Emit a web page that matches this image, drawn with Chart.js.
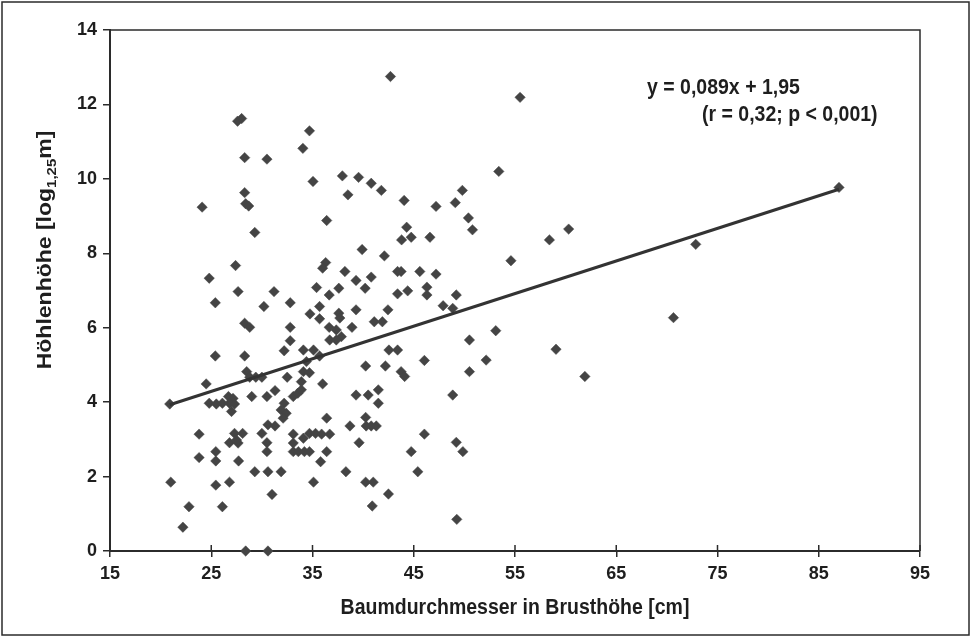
<!DOCTYPE html>
<html lang="de">
<head>
<meta charset="UTF-8">
<title>Höhlenhöhe und Baumdurchmesser</title>
<script src="https://cdn.jsdelivr.net/npm/chart.js@4.4.0/dist/chart.umd.min.js"></script>
<style>
  html, body { margin: 0; padding: 0; background: #fff; }
  #wrap { position: relative; width: 971px; height: 637px; }
</style>
</head>
<body>
<div id="wrap"><canvas id="chart-hoehle"></canvas></div>
<script>
// Baumdurchmesser in Brusthöhe [cm]
const durchmesser = [
  27.6, 28.0, 34.7, 34.05, 28.3, 30.5, 37.95, 35.05, 38.5, 28.3, 28.4, 28.7, 24.1, 36.4, 29.3,
  27.4, 36.3, 36.0, 38.2, 24.8, 27.65, 31.2, 35.4, 37.6, 36.65, 25.4, 32.8, 30.2, 35.7, 34.75,
  37.6, 37.7, 35.7, 28.3, 28.8, 32.8, 36.65, 37.35, 37.85, 36.7, 37.35, 32.8, 32.2, 34.1, 35.1,
  35.7, 34.4, 25.4, 28.3, 28.5, 28.8, 29.4, 30.0, 32.5, 34.1, 34.7, 24.5, 36.0,
  20.9, 24.8, 25.5, 26.1, 26.7, 27.15, 26.8, 27.3, 27.0, 29.0, 30.5, 31.3, 33.1, 33.55, 33.9,
  32.2, 31.9, 32.4, 32.1, 36.4, 23.8, 27.3, 28.1, 27.5, 26.8, 27.65, 30.0, 30.6, 31.3, 30.5,
  30.5, 33.1, 33.1, 34.1, 34.7, 35.3, 35.9, 36.7, 33.1, 33.6, 34.2, 34.7, 36.4, 35.8, 25.45,
  25.45, 23.8, 27.7, 29.3, 30.6, 31.9, 38.3, 21.0, 25.45, 26.8, 31.0, 35.1, 22.8, 26.1, 22.2,
  28.4, 30.6,
  42.7, 39.55, 40.8, 41.8, 44.05, 47.2, 49.8, 49.1, 50.4, 50.8, 44.3, 43.8, 44.75, 46.6, 39.9, 53.4,
  42.1, 43.4, 43.75, 45.6, 47.2, 39.3, 40.8, 40.2, 43.4, 44.4, 46.3, 46.3, 49.2, 47.9, 48.85,
  39.3, 42.45, 41.1, 41.9, 38.9, 42.55, 43.4, 50.5, 52.15, 53.1, 40.25, 42.2, 46.05, 43.75, 44.1,
  50.5, 33.9, 39.3, 40.5, 41.5, 48.85,
  41.5, 38.7, 40.25, 40.3, 40.8, 41.3, 46.05, 49.2, 49.85, 44.75, 45.4, 39.6, 40.25, 41.0, 42.5,
  40.9, 49.25,
  55.5, 58.4, 60.3, 54.6, 70.65, 59.05, 61.9, 87.0, 72.85
];

// Höhlenhöhe [log1,25 m]
const hoehe = [
  11.55, 11.62, 11.29, 10.82, 10.57, 10.53, 10.08, 9.93, 9.57, 9.63, 9.33, 9.27, 9.24, 8.88, 8.56,
  7.67, 7.75, 7.60, 7.51, 7.33, 6.97, 6.97, 7.08, 7.06, 6.88, 6.67, 6.67, 6.57, 6.57, 6.37,
  6.39, 6.26, 6.24, 6.12, 6.01, 6.01, 6.01, 5.94, 5.76, 5.67, 5.67, 5.65, 5.38, 5.40, 5.40,
  5.24, 5.09, 5.24, 5.24, 4.82, 4.67, 4.67, 4.67, 4.67, 4.82, 4.79, 4.49, 4.49,
  3.95, 3.97, 3.95, 3.97, 4.15, 4.10, 3.97, 3.95, 3.75, 4.15, 4.15, 4.31, 4.15, 4.24, 4.33,
  3.97, 3.79, 3.70, 3.57, 3.57, 3.14, 3.16, 3.16, 2.98, 2.91, 2.90, 3.16, 3.39, 3.36, 2.91,
  2.67, 3.14, 2.90, 3.03, 3.16, 3.16, 3.14, 3.14, 2.67, 2.67, 2.67, 2.67, 2.67, 2.40, 2.67,
  2.42, 2.51, 2.42, 2.13, 2.13, 2.13, 2.13, 1.85, 1.77, 1.85, 1.52, 1.85, 1.19, 1.19, 0.64,
  0, 0,
  12.75, 10.04, 9.88, 9.69, 9.42, 9.26, 9.69, 9.36, 8.95, 8.63, 8.70, 8.36, 8.43, 8.43, 8.10, 10.2,
  7.93, 7.51, 7.51, 7.51, 7.44, 7.27, 7.36, 7.06, 6.91, 6.99, 7.09, 6.88, 6.88, 6.59, 6.52,
  6.48, 6.48, 6.16, 6.16, 6.01, 5.40, 5.40, 5.67, 5.13, 5.92, 4.97, 4.97, 5.12, 4.82, 4.69,
  4.82, 4.55, 4.19, 4.19, 4.33, 4.19,
  3.97, 3.36, 3.59, 3.36, 3.36, 3.36, 3.14, 2.92, 2.67, 2.67, 2.13, 2.91, 1.85, 1.85, 1.53,
  1.21, 0.85,
  12.19, 8.36, 8.65, 7.80, 6.27, 5.42, 4.69, 9.77, 8.24
];

// Regressionsgerade (Endpunkte wie im Bild)
const trendX = [20.9, 87.0];
const trendY = [3.93, 9.72];

const xTickWerte = [15, 25, 35, 45, 55, 65, 75, 85, 95];
const yTickWerte = [0, 2, 4, 6, 8, 10, 12, 14];

const gleichung = 'y = 0,089x + 1,95';
const statistik = '(r = 0,32; p < 0,001)';
const xTitel = 'Baumdurchmesser in Brusthöhe [cm]';

const schrift = '"Liberation Sans", Arial, sans-serif';
const dunkel = '#2b2b2b';
const textFarbe = '#1e1e1e';
// der Scan ist etwas in die Höhe gezogen
const streckung = 1.15;

function gestreckterText(ctx, text, x, y) {
  ctx.save();
  ctx.translate(x, y);
  ctx.scale(1, streckung);
  ctx.fillText(text, 0, 0);
  ctx.restore();
}

// Rahmen, innere Tickstriche, Texte
const rahmenPlugin = {
  id: 'rahmen',
  afterDraw(chart) {
    const { ctx, chartArea: a, scales } = chart;
    ctx.save();
    ctx.strokeStyle = dunkel;

    // Plotrahmen oben und rechts
    ctx.lineWidth = 1.5;
    ctx.beginPath();
    ctx.moveTo(a.left, a.top);
    ctx.lineTo(a.right, a.top);
    ctx.lineTo(a.right, a.bottom);
    ctx.stroke();

    // x-Ticks gehen durch die Achse
    xTickWerte.forEach(v => {
      const px = scales.x.getPixelForValue(v);
      ctx.beginPath();
      ctx.moveTo(px, a.bottom - 6);
      ctx.lineTo(px, a.bottom);
      ctx.stroke();
    });

    // Außenrahmen
    ctx.strokeRect(2, 2, chart.width - 4, chart.height - 4);

    ctx.fillStyle = textFarbe;
    ctx.textBaseline = 'middle';

    // Gleichung
    ctx.textAlign = 'left';
    ctx.font = 'bold 19.5px ' + schrift;
    gestreckterText(ctx, gleichung, 647, 88);
    gestreckterText(ctx, statistik, 702, 114.5);

    // x-Titel
    ctx.textAlign = 'center';
    gestreckterText(ctx, xTitel, (a.left + a.right) / 2, 608);

    // y-Titel mit Index
    const f1 = 'bold 20px ' + schrift;
    const f2 = 'bold 13px ' + schrift;
    ctx.textAlign = 'left';
    ctx.textBaseline = 'alphabetic';
    ctx.font = f1;
    const w1 = ctx.measureText('Höhlenhöhe [log').width;
    const w3 = ctx.measureText('m]').width;
    ctx.font = f2;
    const w2 = ctx.measureText('1,25').width;
    ctx.translate(51, 250);
    ctx.rotate(-Math.PI / 2);
    ctx.scale(streckung, 1);
    const x0 = -(w1 + w2 + w3) / 2;
    ctx.font = f1;
    ctx.fillText('Höhlenhöhe [log', x0, 0);
    ctx.font = f2;
    ctx.fillText('1,25', x0 + w1, 5);
    ctx.font = f1;
    ctx.fillText('m]', x0 + w1 + w2, 0);

    ctx.restore();
  }
};

function crearGrafico() {
  const ctx = document.getElementById('chart-hoehle');
  const punkte = durchmesser.map((x, i) => ({ x: x, y: hoehe[i] }));
  const gerade = trendX.map((x, i) => ({ x: x, y: trendY[i] }));

  new Chart(ctx, {
    type: 'scatter',
    data: {
      datasets: [
        {
          label: 'Regression',
          data: gerade,
          showLine: true,
          borderColor: '#333333',
          borderWidth: 3,
          pointRadius: 0,
          clip: false
        },
        {
          label: 'Höhlen',
          data: punkte,
          pointStyle: 'rectRot',
          pointRadius: 5.2,
          backgroundColor: '#444444',
          borderColor: '#444444',
          borderWidth: 0.5,
          clip: false
        }
      ]
    },
    options: {
      responsive: true,
      maintainAspectRatio: false,
      animation: false,
      events: [],
      layout: {
        padding: { top: 30, right: 51, bottom: 0, left: 0 }
      },
      plugins: {
        legend: { display: false },
        tooltip: { enabled: false }
      },
      scales: {
        x: {
          type: 'linear',
          min: 15,
          max: 95,
          afterBuildTicks: s => { s.ticks = xTickWerte.map(v => ({ value: v })); },
          afterFit: s => { s.height = 86; },
          grid: {
            drawOnChartArea: false,
            tickLength: 6,
            color: dunkel,
            lineWidth: 1.5
          },
          border: { color: dunkel, width: 2 },
          ticks: {
            color: textFarbe,
            padding: 6,
            maxRotation: 0,
            font: { family: schrift, size: 18, weight: 'bold' }
          },
          title: { display: false }
        },
        y: {
          type: 'linear',
          min: 0,
          max: 14,
          afterBuildTicks: s => { s.ticks = yTickWerte.map(v => ({ value: v })); },
          afterFit: s => { s.width = 110; },
          grid: {
            drawOnChartArea: false,
            tickLength: 7,
            color: dunkel,
            lineWidth: 1.5
          },
          border: { color: dunkel, width: 2 },
          ticks: {
            color: textFarbe,
            padding: 6,
            font: { family: schrift, size: 18, weight: 'bold' }
          }
        }
      }
    },
    plugins: [rahmenPlugin]
  });
}

document.addEventListener('DOMContentLoaded', () => {
  crearGrafico();
});
</script>
</body>
</html>
